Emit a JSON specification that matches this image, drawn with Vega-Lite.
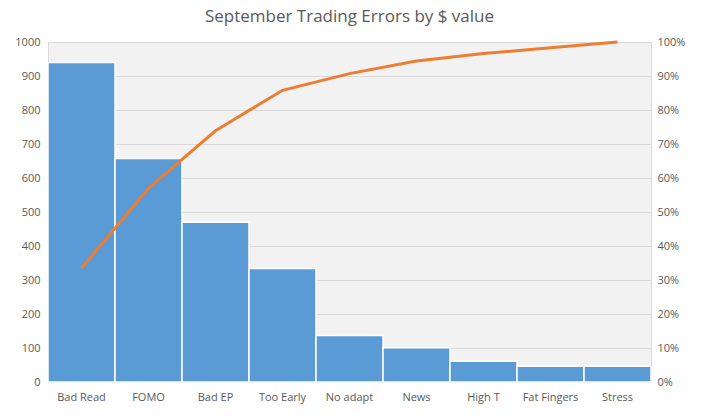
{
  "$schema": "https://vega.github.io/schema/vega-lite/v6.json",
  "autosize": "none",
  "padding": {"left": 48, "top": 42, "right": 51, "bottom": 36},
  "width": 603,
  "height": 340,
  "background": "white",
  "title": {
    "text": "September Trading Errors by $ value",
    "font": "Open Sans",
    "fontSize": 17,
    "fontWeight": "normal",
    "color": "#595959",
    "anchor": "middle",
    "offset": 10
  },
  "config": {
    "view": {"fill": "#f2f2f2", "stroke": "#d9d9d9", "strokeWidth": 1},
    "axis": {"labelFont": "Open Sans", "labelFontSize": 11, "labelColor": "#595959", "ticks": false, "domain": false, "titleFontSize": 0}
  },
  "data": {
    "values": [
      {"cause": "Bad Read", "value": 940, "cum": 0.335},
      {"cause": "FOMO", "value": 657, "cum": 0.57},
      {"cause": "Bad EP", "value": 470, "cum": 0.739},
      {"cause": "Too Early", "value": 334, "cum": 0.858},
      {"cause": "No adapt", "value": 137, "cum": 0.907},
      {"cause": "News", "value": 101, "cum": 0.944},
      {"cause": "High T", "value": 61, "cum": 0.966},
      {"cause": "Fat Fingers", "value": 46, "cum": 0.983},
      {"cause": "Stress", "value": 46, "cum": 1.0}
    ]
  },
  "encoding": {
    "x": {
      "field": "cause",
      "type": "nominal",
      "sort": null,
      "scale": {"paddingInner": 0, "paddingOuter": 0},
      "axis": {"title": null, "labelAngle": 0, "labelPadding": 9, "grid": false}
    }
  },
  "layer": [
    {
      "mark": {"type": "bar", "color": "#5b9bd5", "stroke": "white", "strokeWidth": 1.5},
      "encoding": {
        "y": {
          "field": "value",
          "type": "quantitative",
          "scale": {"domain": [0, 1000], "nice": false},
          "axis": {"title": null, "format": "d", "values": [0,100,200,300,400,500,600,700,800,900,1000], "grid": true, "gridColor": "#d9d9d9", "labelPadding": 8}
        }
      }
    },
    {
      "mark": {"type": "line", "color": "#ed7d31", "strokeWidth": 3},
      "encoding": {
        "y": {
          "field": "cum",
          "type": "quantitative",
          "scale": {"domain": [0, 1], "nice": false},
          "axis": {"title": null, "orient": "right", "format": ".0%", "values": [0,0.1,0.2,0.3,0.4,0.5,0.6,0.7,0.8,0.9,1], "grid": false, "labelPadding": 6}
        }
      }
    }
  ],
  "resolve": {"scale": {"y": "independent"}}
}
